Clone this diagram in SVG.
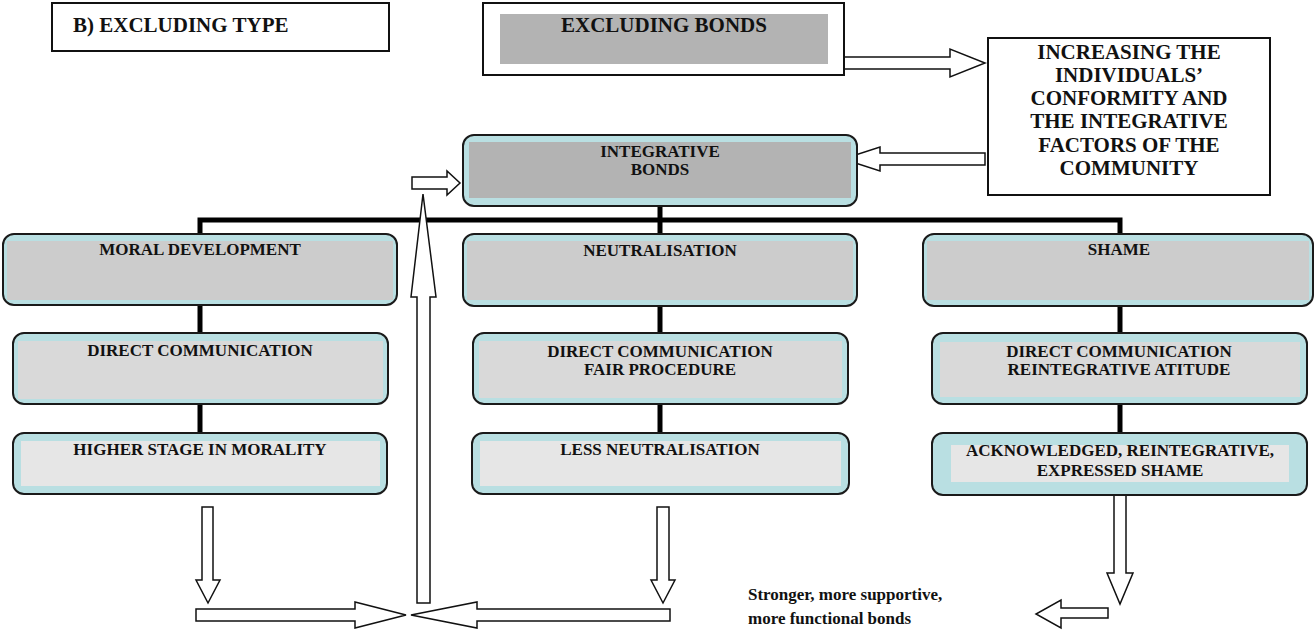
<svg xmlns="http://www.w3.org/2000/svg" width="1315" height="635" viewBox="0 0 1315 635">
<style>
text{font-family:"Liberation Serif","Times New Roman",serif;font-weight:bold;fill:#111}
.big{font-size:21px}
.t{font-size:17px;text-anchor:middle}
.plain{fill:#fff;stroke:#111;stroke-width:2}
.outer{fill:#b9dfe2;stroke:#1a1a1a;stroke-width:2}
.g1{fill:#cccccc}
.g0{fill:#b3b3b3}
.g2{fill:#d9d9d9}
.g3{fill:#e6e6e6}
.arrow{fill:#fff;stroke:#111;stroke-width:1.5;stroke-linejoin:miter}
.bar{stroke:#000;stroke-width:5;fill:none}
.note{font-size:17px}
</style>
<rect width="1315" height="635" fill="#fff"/>

<g id="connectors">
<polyline class="bar" points="200,234 200,220 1120,220 1120,234"/>
<line class="bar" x1="660" y1="206" x2="660" y2="234"/>
<line class="bar" x1="200" y1="305" x2="200" y2="333"/>
<line class="bar" x1="200" y1="404" x2="200" y2="433"/>
<line class="bar" x1="660" y1="306" x2="660" y2="333"/>
<line class="bar" x1="660" y1="404" x2="660" y2="433"/>
<line class="bar" x1="1120" y1="306" x2="1120" y2="333"/>
<line class="bar" x1="1120" y1="404" x2="1120" y2="433"/>
<polygon class="arrow" points="844,57 950,57 950,49 985,63 950,77 950,69 844,69"/>
<polygon class="arrow" points="985,153 880,153 880,147 843,159 880,171 880,165 985,165"/>
<polygon class="arrow" points="412,177 447,177 447,171 460,183 447,195 447,189 412,189"/>
<polygon class="arrow" points="417,603 430,603 430,297 436,297 423,194 411,297 417,297"/>
<polygon class="arrow" points="202,507 213,507 213,580 220,580 208,603 196,580 202,580"/>
<polygon class="arrow" points="657,507 669,507 669,580 675,580 663,603 651,580 657,580"/>
<polygon class="arrow" points="1114,495 1126,495 1126,573 1133,573 1120,604 1107,573 1114,573"/>
<polygon class="arrow" points="196,609 355,609 355,602 406,615 355,628 355,621 196,621"/>
<polygon class="arrow" points="670,609 477,609 477,602 411,615 477,628 477,621 670,621"/>
<polygon class="arrow" points="1108,608 1061,608 1061,600 1036,614 1061,628 1061,618 1108,618"/>
</g>

<g id="excluding-type">
<rect class="plain" x="52" y="3" width="337" height="48"/>
<text class="big" x="73" y="32">B) EXCLUDING TYPE</text>
</g>

<g id="excluding-bonds">
<rect class="plain" x="483" y="3" width="361" height="72"/>
<rect class="g0" x="500" y="14" width="328" height="50"/>
<text class="big" x="664" y="32" text-anchor="middle">EXCLUDING BONDS</text>
</g>

<g id="increasing">
<rect class="plain" x="988" y="38" width="282" height="157"/>
<g class="big" text-anchor="middle">
<text x="1129" y="59">INCREASING THE</text>
<text x="1129" y="82">INDIVIDUALS’</text>
<text x="1129" y="105">CONFORMITY AND</text>
<text x="1129" y="128">THE INTEGRATIVE</text>
<text x="1129" y="152">FACTORS OF THE</text>
<text x="1129" y="175">COMMUNITY</text>
</g>
</g>

<g id="integrative-bonds">
<rect class="outer" x="463" y="135" width="394" height="71" rx="11"/>
<rect class="g0" x="469" y="142" width="382" height="56"/>
<text class="t" x="660" y="157">INTEGRATIVE</text>
<text class="t" x="660" y="175">BONDS</text>
</g>

<g id="moral-development">
<rect class="outer" x="3" y="234" width="394" height="71" rx="11"/>
<rect class="g1" x="7" y="241" width="386" height="59"/>
<text class="t" x="200" y="255">MORAL DEVELOPMENT</text>
</g>

<g id="neutralisation">
<rect class="outer" x="463" y="234" width="394" height="72" rx="11"/>
<rect class="g1" x="467" y="241" width="386" height="59"/>
<text class="t" x="660" y="256">NEUTRALISATION</text>
</g>

<g id="shame">
<rect class="outer" x="923" y="234" width="390" height="72" rx="11"/>
<rect class="g1" x="927" y="241" width="382" height="59"/>
<text class="t" x="1119" y="255">SHAME</text>
</g>

<g id="dc-moral">
<rect class="outer" x="13" y="333" width="375" height="71" rx="11"/>
<rect class="g2" x="18" y="341" width="365" height="58"/>
<text class="t" x="200" y="356">DIRECT COMMUNICATION</text>
</g>

<g id="dc-neutral">
<rect class="outer" x="473" y="333" width="375" height="71" rx="11"/>
<rect class="g2" x="479" y="341" width="363" height="57"/>
<text class="t" x="660" y="357">DIRECT COMMUNICATION</text>
<text class="t" x="660" y="375">FAIR PROCEDURE</text>
</g>

<g id="dc-shame">
<rect class="outer" x="932" y="333" width="375" height="71" rx="11"/>
<rect class="g2" x="940" y="342" width="360" height="55"/>
<text class="t" x="1119" y="357">DIRECT COMMUNICATION</text>
<text class="t" x="1119" y="375">REINTEGRATIVE ATITUDE</text>
</g>

<g id="higher-stage">
<rect class="outer" x="13" y="433" width="374" height="61" rx="11"/>
<rect class="g3" x="21" y="441" width="359" height="45"/>
<text class="t" x="200" y="455">HIGHER STAGE IN MORALITY</text>
</g>

<g id="less-neutralisation">
<rect class="outer" x="472" y="433" width="377" height="61" rx="11"/>
<rect class="g3" x="480" y="441" width="361" height="45"/>
<text class="t" x="660" y="455">LESS NEUTRALISATION</text>
</g>

<g id="acknowledged">
<rect class="outer" x="932" y="433" width="375" height="62" rx="11"/>
<rect class="g3" x="951" y="445" width="338" height="37"/>
<text class="t" x="1120" y="456">ACKNOWLEDGED, REINTEGRATIVE,</text>
<text class="t" x="1120" y="476">EXPRESSED SHAME</text>
</g>

<g id="stronger-bonds">
<text class="note" x="748" y="600">Stronger, more supportive,</text>
<text class="note" x="748" y="624">more functional bonds</text>
</g>
</svg>
